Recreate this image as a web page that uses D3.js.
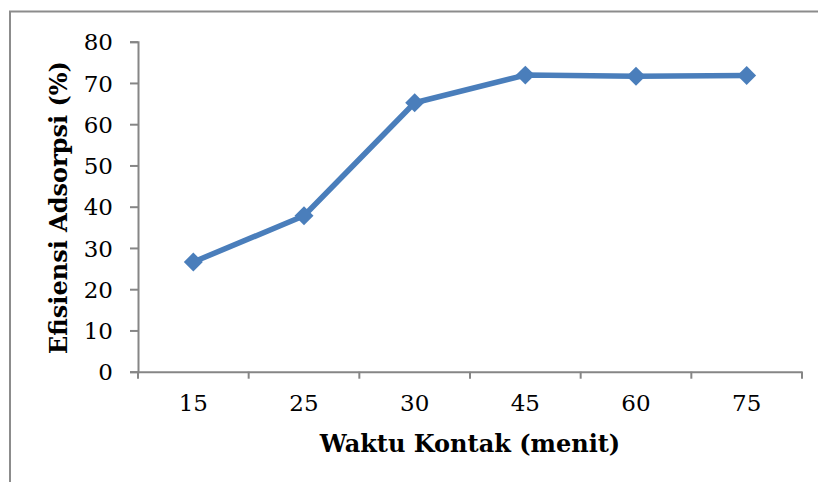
<!DOCTYPE html>
<html>
<head>
<meta charset="utf-8">
<script src="https://cdn.jsdelivr.net/npm/d3@7"></script>
<style>
  body { margin: 0; background: #fff; }
  svg text { font-family: "DejaVu Serif", "Liberation Serif", serif; }
</style>
</head>
<body>
<svg id="chart" width="818" height="482"></svg>
<script>
const categories = ["15", "25", "30", "45", "60", "75"];
const efficiency = [26.6, 37.8, 65.2, 71.9, 71.6, 71.8];
const yTicks = [0, 10, 20, 30, 40, 50, 60, 70, 80];
const xTitle = "Waktu Kontak (menit)";
const yTitle = "Efisiensi Adsorpsi (%)";

const svg = d3.select("#chart");
const margin = { left: 138, right: 16, top: 41.7, bottom: 110.3 };
const width = 818 - margin.left - margin.right;
const height = 482 - margin.top - margin.bottom;

// outer chart border (cut off at right and bottom like the source)
svg.append("rect")
  .attr("x", 10).attr("y", 11.5)
  .attr("width", 820).attr("height", 480)
  .attr("fill", "none")
  .attr("stroke", "#8c8c8c")
  .attr("stroke-width", 2);

const g = svg.append("g").attr("transform", `translate(${margin.left},${margin.top})`);

const x = d3.scaleBand().domain(categories).range([0, width]);
const y = d3.scaleLinear().domain([0, 80]).range([height, 0]);

// y axis
const yAxis = g.append("g")
  .call(d3.axisLeft(y).tickValues(yTicks).tickSize(8).tickPadding(17));
// x axis
const xAxis = g.append("g")
  .attr("transform", `translate(0,${height})`)
  .call(d3.axisBottom(x).tickSize(0).tickPadding(23));

// x ticks sit between categories
xAxis.selectAll(".cat-tick")
  .data(d3.range(categories.length + 1))
  .join("line")
  .attr("x1", i => i * x.bandwidth())
  .attr("x2", i => i * x.bandwidth())
  .attr("y1", 0).attr("y2", 7);

for (const ax of [yAxis, xAxis]) {
  ax.select(".domain").attr("stroke", "#868686").attr("stroke-width", 2);
  ax.selectAll("line").attr("stroke", "#868686").attr("stroke-width", 2);
  ax.selectAll("text")
    .attr("fill", "#000")
    .style("font-size", "23px")
    .style("font-family", "DejaVu Serif, serif");
}
yAxis.selectAll("text").attr("dy", "0.36em");

// line
const line = d3.line()
  .x((d, i) => x(categories[i]) + x.bandwidth() / 2)
  .y(d => y(d));

g.append("path")
  .datum(efficiency)
  .attr("fill", "none")
  .attr("stroke", "#4a7ebb")
  .attr("stroke-width", 5.5)
  .attr("stroke-linejoin", "round")
  .attr("d", line);

g.selectAll(".marker")
  .data(efficiency)
  .join("path")
  .attr("class", "marker")
  .attr("d", d3.symbol(d3.symbolSquare, 180))
  .attr("transform", (d, i) => `translate(${x(categories[i]) + x.bandwidth() / 2},${y(d)}) rotate(45)`)
  .attr("fill", "#4a7ebb");

// axis titles
svg.append("text")
  .attr("x", 470)
  .attr("y", 452)
  .attr("text-anchor", "middle")
  .style("font-size", "24px")
  .style("font-weight", "bold")
  .text(xTitle);

svg.append("text")
  .attr("transform", `translate(67,207.5) rotate(-90)`)
  .attr("text-anchor", "middle")
  .style("font-size", "24px")
  .style("font-weight", "bold")
  .text(yTitle);
</script>
</body>
</html>
